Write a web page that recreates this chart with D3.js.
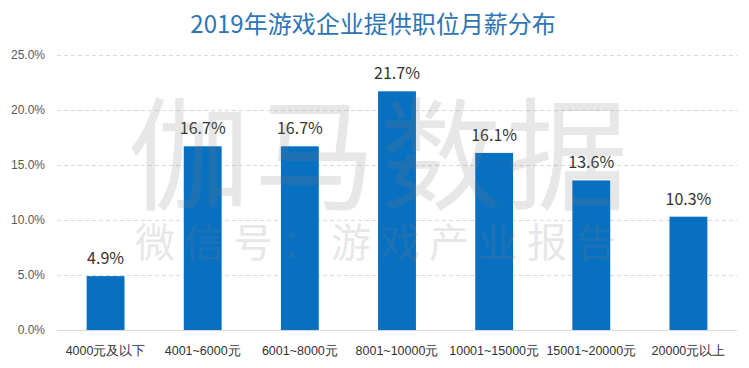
<!DOCTYPE html>
<html>
<head>
<meta charset="utf-8">
<script src="https://cdn.jsdelivr.net/npm/d3@7"></script>
<style>
  body { margin: 0; background: #fff; }
  svg { display: block; font-family: "Noto Sans CJK SC", "Noto Sans", sans-serif; }
</style>
</head>
<body>
<script>
// data
var categories = ['4000元及以下', '4001~6000元', '6001~8000元', '8001~10000元', '10001~15000元', '15001~20000元', '20000元以上'];
var shares = [4.9, 16.7, 16.7, 21.7, 16.1, 13.6, 10.3];
var yTicks = [0, 5, 10, 15, 20, 25];
var title = '2019年游戏企业提供职位月薪分布';
var watermark = '伽马数据';
var watermarkSub = '微信号：游戏产业报告';

var width = 749, height = 368;
// note: "top" is taken by window.top, so plot edges get their own names
var plotLeft = 57, plotRight = 737, plotTop = 55, plotBottom = 330;

var svg = d3.select('body').append('svg')
  .attr('width', width)
  .attr('height', height);

var x = d3.scaleBand()
  .domain(categories)
  .range([plotLeft, plotRight])
  .paddingInner(0.61)
  .paddingOuter(0.305);

var y = d3.scaleLinear()
  .domain([0, 25])
  .range([plotBottom, plotTop]);

// title
svg.append('text')
  .attr('x', 373)
  .attr('y', 33)
  .attr('text-anchor', 'middle')
  .attr('fill', '#2e75b6')
  .style('font-size', '24px')
  .text(title);

// grid
svg.append('g')
  .selectAll('line')
  .data(yTicks.filter(d => d > 0))
  .enter().append('line')
  .attr('x1', plotLeft)
  .attr('x2', plotRight)
  .attr('y1', d => y(d) + 0.5)
  .attr('y2', d => y(d) + 0.5)
  .attr('stroke', '#d9d9d9')
  .attr('stroke-dasharray', '4,3');

// y axis labels
var yAxis = d3.axisLeft(y).tickValues(yTicks).tickSize(0).tickPadding(12)
  .tickFormat(d => d.toFixed(1) + '%');
var gy = svg.append('g')
  .attr('transform', 'translate(' + plotLeft + ',0)')
  .call(yAxis);
gy.select('.domain').remove();
gy.selectAll('text')
  .attr('fill', '#595959')
  .style('font-size', '12px');

// bars
svg.append('g')
  .selectAll('rect')
  .data(shares)
  .enter().append('rect')
  .attr('x', (d, i) => x(categories[i]))
  .attr('y', d => y(d))
  .attr('width', x.bandwidth())
  .attr('height', d => plotBottom - y(d))
  .attr('fill', '#0870c0');

// value labels
svg.append('g')
  .selectAll('text')
  .data(shares)
  .enter().append('text')
  .attr('x', (d, i) => x(categories[i]) + x.bandwidth() / 2)
  .attr('y', d => y(d) - 12)
  .attr('text-anchor', 'middle')
  .attr('fill', '#333')
  .style('font-size', '16px')
  .text(d => d.toFixed(1) + '%');

// x axis
var xAxis = d3.axisBottom(x).tickSize(0).tickPadding(16);
var gx = svg.append('g')
  .attr('transform', 'translate(0,' + plotBottom + ')')
  .call(xAxis);
gx.select('.domain')
  .attr('stroke', '#d9d9d9')
  .attr('d', 'M' + plotLeft + ',0.5H' + plotRight);
gx.selectAll('text')
  .attr('fill', '#333')
  .style('font-size', '12.5px');

// watermark on top, faint
var wm = svg.append('g').attr('fill', '#808080').attr('opacity', 0.18);
wm.append('text')
  .attr('x', 380)
  .attr('y', 200)
  .attr('text-anchor', 'middle')
  .style('font-size', '122px')
  .style('letter-spacing', '4px')
  .text(watermark);
wm.append('text')
  .attr('x', 380)
  .attr('y', 257)
  .attr('text-anchor', 'middle')
  .style('font-size', '40px')
  .style('letter-spacing', '9px')
  .text(watermarkSub);
</script>
</body>
</html>
